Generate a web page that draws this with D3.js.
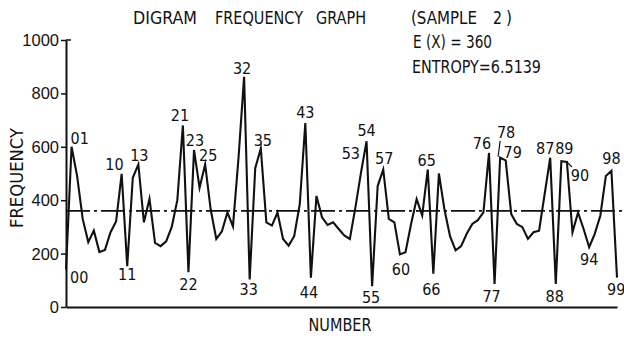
<!DOCTYPE html>
<html>
<head>
<meta charset="utf-8">
<script src="https://cdn.jsdelivr.net/npm/d3@7"></script>
<style>
  html, body { margin: 0; padding: 0; background: #fff; }
  svg { display: block; }
  text { fill: #111; }
</style>
</head>
<body>
<svg id="chart" width="624" height="343"></svg>
<script>
// ---- data ----
const numbers = d3.range(0, 100); // digram numbers 00..99
const frequency = [
  140, 600, 490, 330, 243, 286, 206, 214, 280, 320,
  499, 153, 484, 534, 317, 405, 240, 228, 246, 300,
  400, 680, 130, 588, 447, 534, 365, 255, 283, 354,
  302, 560, 862, 103, 520, 594, 317, 305, 354, 255,
  230, 265, 385, 689, 110, 416, 336, 307, 317, 292,
  268, 255, 373, 503, 621, 78, 453, 515, 330, 317,
  197, 205, 311, 404, 343, 515, 125, 500, 365, 265,
  212, 228, 274, 311, 325, 354, 577, 86, 559, 549,
  348, 311, 299, 255, 280, 286, 423, 559, 86, 546,
  543, 280, 354, 292, 224, 274, 342, 491, 510, 110
];
const meanValue = 360;
const yTicks = [0, 200, 400, 600, 800, 1000];
const peakLabels = [1, 10, 13, 21, 23, 25, 32, 35, 43, 53, 54, 57, 65, 76, 78, 79, 87, 89, 90, 98];
const troughLabels = [0, 11, 22, 33, 44, 55, 60, 66, 77, 88, 94, 99];
const titleWords = ["DIGRAM", "FREQUENCY", "GRAPH", "(SAMPLE", "2", ")"];
const expectationText = "E (X) = 360";
const entropyText = "ENTROPY=6.5139";

// ---- layout / style (not data) ----
const W = 624, H = 343;
const svg = d3.select("#chart");
const x = d3.scaleLinear().domain([0, 99]).range([66, 617]);
const y = d3.scaleLinear().domain([0, 1000]).range([307, 40]);
const fontNarrow = "'Liberation Sans Narrow', 'DejaVu Sans Condensed', 'Arial Narrow', sans-serif";
const fontReg = "'Liberation Sans', Arial, sans-serif";

// label placement: [anchor, dx, dy] relative to the point
const placePeak = {
  1: ["start", -1, -3], 10: ["end", 2, -4], 13: ["middle", 1, -3], 21: ["middle", -3, -4],
  23: ["middle", 1, -4], 25: ["middle", 3, -3], 32: ["middle", -2, -3], 35: ["middle", 2, -2],
  43: ["middle", 0, -5], 53: ["end", -1, -14], 54: ["middle", 0, -5], 57: ["middle", 1, -5],
  65: ["middle", -1, -3], 76: ["middle", -7, -4], 78: ["middle", 6, -20], 79: ["middle", 7, -2],
  87: ["middle", -5, -4], 89: ["middle", 3, -7], 90: ["middle", 13, 19], 98: ["middle", 0, -7]
};
const placeTrough = {
  0: ["start", 4, 13], 11: ["middle", 0, 14], 22: ["middle", 0, 18], 33: ["middle", -1, 16],
  44: ["middle", -2, 20], 55: ["middle", -1, 17], 60: ["middle", 1, 21], 66: ["middle", -2, 21],
  77: ["middle", -3, 18], 88: ["middle", -1, 18], 94: ["middle", 0, 18], 99: ["start", -10, 17]
};

// ---- title block ----
const titleX = [133, 215, 316, 411, 493, 506];
const titleLen = [64, 88, 50, 66, 9, 6];
const tg = svg.append("g").attr("font-family", fontNarrow).attr("font-size", 18.5);
titleWords.forEach((w, i) => {
  tg.append("text").attr("x", titleX[i]).attr("y", 24).text(w)
    .attr("textLength", titleLen[i]).attr("lengthAdjust", "spacingAndGlyphs");
});
tg.append("text").attr("x", 413).attr("y", 48).text(expectationText)
  .attr("textLength", 79).attr("lengthAdjust", "spacingAndGlyphs");
tg.append("text").attr("x", 412).attr("y", 73).text(entropyText)
  .attr("textLength", 129).attr("lengthAdjust", "spacingAndGlyphs");

// ---- axes ----
const yAxis = d3.axisLeft(y).tickValues(yTicks).tickSize(5).tickSizeOuter(0).tickPadding(2)
  .tickFormat(d3.format("d"));
const gy = svg.append("g").attr("transform", `translate(${x(0)},0)`).call(yAxis);
gy.select(".domain").attr("stroke", "#111").attr("stroke-width", 2);
gy.selectAll(".tick line").attr("stroke", "#111").attr("stroke-width", 1.5);
gy.selectAll(".tick text").attr("font-family", fontReg).attr("font-size", 16.5)
  .attr("fill", "#111").attr("dy", "0.33em");
// top tick hook to the right
gy.append("line").attr("x1", 0).attr("x2", 5).attr("y1", y(1000)).attr("y2", y(1000))
  .attr("stroke", "#111").attr("stroke-width", 1.5);

const xAxis = d3.axisBottom(x).tickValues([]).tickSizeOuter(0);
const gx = svg.append("g").attr("transform", `translate(0,${y(0)})`).call(xAxis);
gx.select(".domain").attr("stroke", "#111").attr("stroke-width", 2);

// axis titles
svg.append("text").attr("x", 340).attr("y", 331).attr("text-anchor", "middle")
  .attr("font-family", fontNarrow).attr("font-size", 18).text("NUMBER")
  .attr("textLength", 63).attr("lengthAdjust", "spacingAndGlyphs");
svg.append("text").attr("transform", "translate(23,178) rotate(-90)").attr("text-anchor", "middle")
  .attr("font-family", fontNarrow).attr("font-size", 18).text("FREQUENCY")
  .attr("textLength", 100).attr("lengthAdjust", "spacingAndGlyphs");

// ---- mean line (dash-dot) ----
svg.append("line").attr("x1", x(0)).attr("x2", W).attr("y1", y(meanValue)).attr("y2", y(meanValue))
  .attr("stroke", "#111").attr("stroke-width", 1.6).attr("stroke-dasharray", "24,4,3,4");

// ---- frequency line ----
const line = d3.line().x((d, i) => x(numbers[i])).y(d => y(d)).curve(d3.curveLinear);
svg.append("path").datum(frequency).attr("d", line)
  .attr("fill", "none").attr("stroke", "#111").attr("stroke-width", 2.1)
  .attr("stroke-linejoin", "miter").attr("stroke-miterlimit", 6);

// ---- point labels ----
const fmt = d3.format("02d");
const lg = svg.append("g").attr("font-family", fontNarrow).attr("font-size", 16);
function addLabel(i, p) {
  lg.append("text").attr("x", x(numbers[i]) + p[1]).attr("y", y(frequency[i]) + p[2])
    .attr("text-anchor", p[0]).text(fmt(numbers[i]));
}
peakLabels.forEach(i => addLabel(i, placePeak[i]));
troughLabels.forEach(i => addLabel(i, placeTrough[i]));

// leader ticks for 78 and 90
function leader(i, dx1, dy1, dx2, dy2) {
  const px = x(numbers[i]), py = y(frequency[i]);
  svg.append("line").attr("x1", px + dx1).attr("y1", py + dy1).attr("x2", px + dx2).attr("y2", py + dy2)
    .attr("stroke", "#111").attr("stroke-width", 1.2);
}
leader(78, -2, -1, 0, -17);
leader(90, 0, 0, 5, 5);
</script>
</body>
</html>
